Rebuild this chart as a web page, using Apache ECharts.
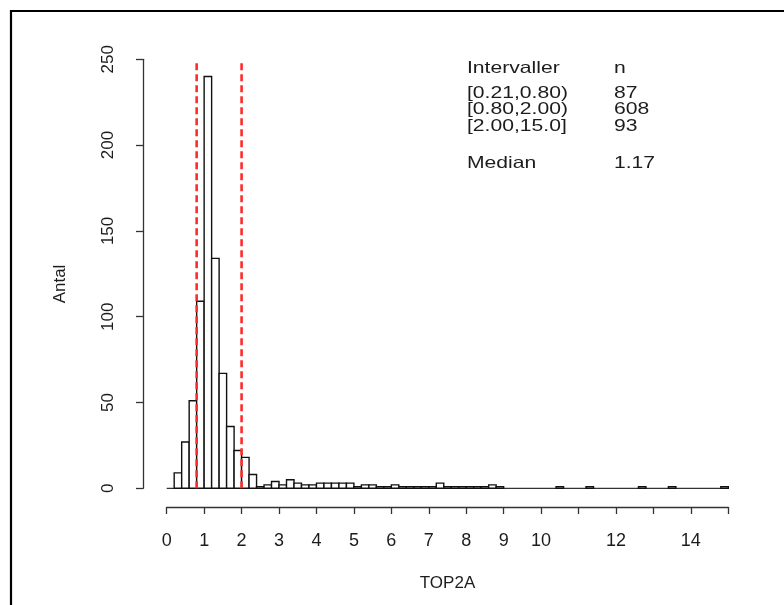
<!DOCTYPE html>
<html>
<head>
<meta charset="utf-8">
<title>TOP2A</title>
<script src="https://cdn.jsdelivr.net/npm/echarts@6/dist/echarts.min.js"></script>
<style>
  html, body { margin: 0; padding: 0; background: #fff; }
  #chart { width: 784px; height: 605px; }
</style>
</head>
<body>
<div id="chart"></div>
<script>
// Histogram of TOP2A values, bins of width 0.2 starting at 0 (last bin ends at 15)
const binStart = 0;
const binWidth = 0.2;
const counts = [
  0, 9, 27, 51, 109, 240, 134, 67, 36, 22,      // 0.0 - 2.0
  18, 8, 1, 2, 4, 2, 5, 3, 2, 2,                // 2.0 - 4.0
  3, 3, 3, 3, 3, 1, 2, 2, 1, 1,                 // 4.0 - 6.0
  2, 1, 1, 1, 1, 1, 3, 1, 1, 1,                 // 6.0 - 8.0
  1, 1, 1, 2, 1, 0, 0, 0, 0, 0,                 // 8.0 - 10.0
  0, 0, 1, 0, 0, 0, 1, 0, 0, 0,                 // 10.0 - 12.0
  0, 0, 0, 1, 0, 0, 0, 1, 0, 0,                 // 12.0 - 14.0
  0, 0, 0, 0, 1                                 // 14.0 - 15.0
];

// Cut-offs marked with dashed red lines
const cutoffs = [0.8, 2.0];

// Summary table
const intervalLabels = ['[0.21,0.80)', '[0.80,2.00)', '[2.00,15.0]'];
const intervalCounts = [87, 608, 93];
const medianValue = '1.17';

// Axis settings
const xTickLabels = [0, 1, 2, 3, 4, 5, 6, 7, 8, 9, 10, 12, 14];
const xMax = 15;
const yMax = 250;
const yStep = 50;

const FONT = '"Liberation Sans", Arial, Helvetica, sans-serif';
const INK = '#1c1c1c';

const binData = counts.map((c, i) => [
  +(binStart + i * binWidth).toFixed(2),
  +(binStart + (i + 1) * binWidth).toFixed(2),
  c
]);

const chart = echarts.init(document.getElementById('chart'), null, { renderer: 'canvas' });

// table text, drawn slightly stretched horizontally
const tableRows = [
  { y: 68, left: 'Intervaller', right: 'n' },
  ...intervalLabels.map((lab, i) => ({ y: [93, 109, 126][i], left: lab, right: String(intervalCounts[i]) })),
  { y: 163, left: 'Median', right: medianValue }
];
const tableText = [];
tableRows.forEach(r => {
  [[467, r.left], [614, r.right]].forEach(([x, t]) => {
    tableText.push({
      type: 'text', x: x, y: r.y, scaleX: 1.28, scaleY: 1, originX: 0, originY: 0,
      style: { text: t, font: '16.5px ' + FONT, fill: INK, textAlign: 'left', textVerticalAlign: 'middle' },
      z: 10
    });
  });
});

const axisInk = { color: '#333', width: 1.3 };

const option = {
  backgroundColor: '#fff',
  animation: false,
  grid: { left: 166.7, right: 55.7, top: 59.3, bottom: 116.7, containLabel: false },
  xAxis: {
    type: 'value', min: 0, max: xMax, interval: 1, offset: 18.7,
    name: 'TOP2A', nameLocation: 'middle', nameGap: 68,
    nameTextStyle: { fontFamily: FONT, fontSize: 17, color: INK },
    axisLine: { show: true, onZero: false, lineStyle: axisInk },
    axisTick: { show: true, length: 7, lineStyle: axisInk },
    axisLabel: {
      fontFamily: FONT, fontSize: 18, color: INK, margin: 25,
      formatter: v => xTickLabels.includes(v) ? String(v) : ''
    },
    splitLine: { show: false }
  },
  yAxis: {
    type: 'value', min: 0, max: yMax, interval: yStep, offset: 23.7,
    axisLine: { show: true, onZero: false, lineStyle: axisInk },
    axisTick: { show: true, length: 7, lineStyle: axisInk },
    axisLabel: { fontFamily: FONT, fontSize: 17, color: INK, rotate: 90, margin: 26 },
    splitLine: { show: false }
  },
  graphic: [
    {
      type: 'rect', shape: { x: 11, y: 11, width: 800, height: 700 },
      style: { fill: 'none', stroke: '#000', lineWidth: 2.2 }, silent: true, z: 0
    },
    {
      type: 'text', x: 60, y: 284, rotation: Math.PI / 2,
      style: { text: 'Antal', font: '17px ' + FONT, fill: INK, textAlign: 'center', textVerticalAlign: 'middle' },
      z: 10
    },
    ...tableText
  ],
  series: [
    {
      // zero line under the bins
      type: 'line', data: [[0, 0], [xMax, 0]], symbol: 'none', silent: true,
      lineStyle: { color: '#333', width: 1.3 }, z: 1
    },
    {
      type: 'custom', data: binData, z: 2,
      encode: { x: [0, 1], y: 2 },
      renderItem: (params, api) => {
        const x0 = api.value(0), x1 = api.value(1), c = api.value(2);
        const pTop = api.coord([x0, c]);
        const pBot = api.coord([x1, 0]);
        if (c === 0) return null;
        return {
          type: 'rect',
          shape: { x: pTop[0], y: pTop[1], width: pBot[0] - pTop[0], height: pBot[1] - pTop[1] },
          style: { fill: '#fff', stroke: '#111', lineWidth: 1.4 }
        };
      }
    },
    ...cutoffs.map(v => ({
      type: 'line', data: [[v, 0], [v, yMax]], symbol: 'none', silent: true, z: 5,
      lineStyle: { color: '#ff2b2b', width: 2.6, type: [7, 4] }
    }))
  ]
};

chart.setOption(option);
</script>
</body>
</html>
